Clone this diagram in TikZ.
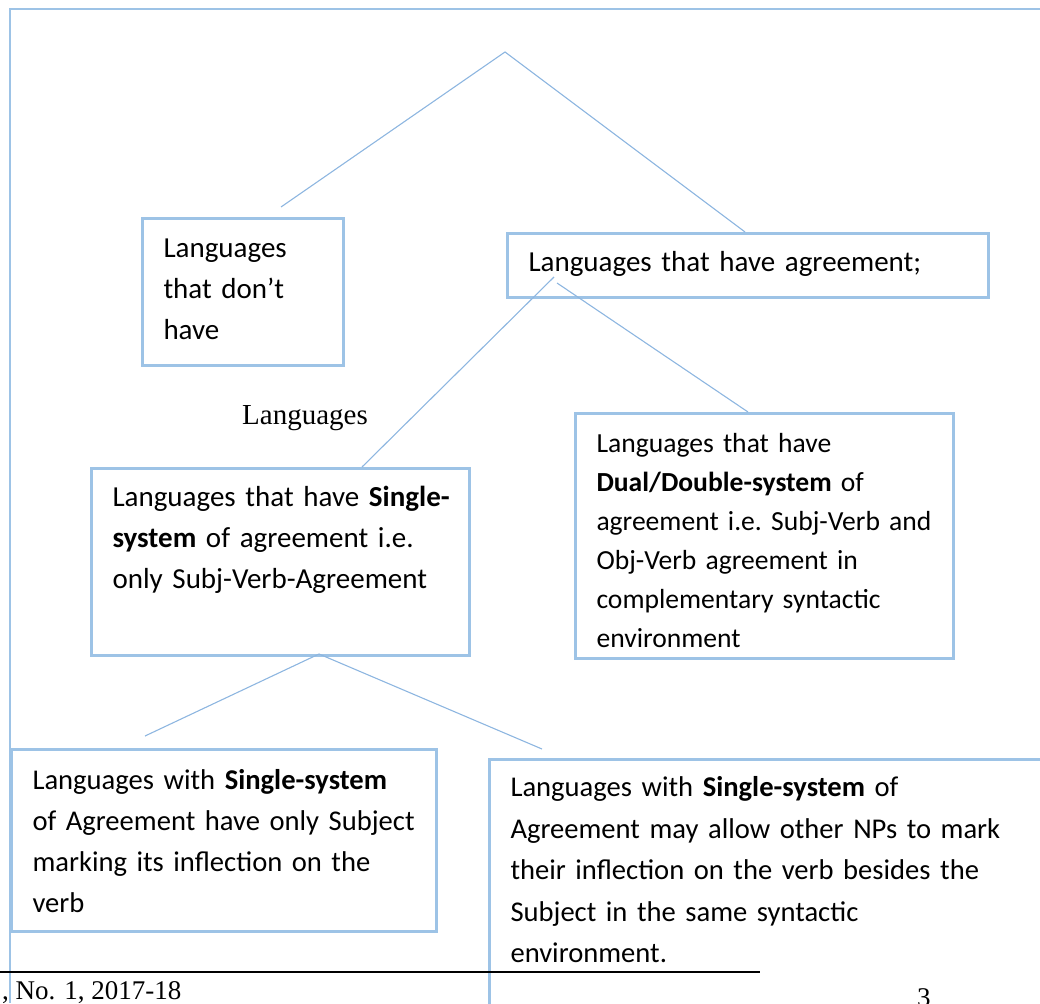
\documentclass[tikz,border=0pt]{standalone}
\usepackage{fontspec}
\setmainfont{Carlito}
\newfontfamily\timesfont{Liberation Serif}
\definecolor{boxblue}{HTML}{9DC3E6}
\definecolor{lineblue}{HTML}{8DB6E0}

\begin{document}
\begin{tikzpicture}[x=1pt, y=-1pt,
	box/.style={draw=boxblue, line width=3pt, anchor=north west, inner xsep=21pt, inner ysep=0pt, align=left,
		font=\fontsize{29}{41}\selectfont,
		execute at begin node={\frenchspacing\hyphenpenalty=10000\rightskip=0pt plus 1fil minus 40pt}},
	conn/.style={draw=lineblue, line width=1.1pt},
	serif/.style={anchor=base west, inner sep=0pt, font=\timesfont\fontsize{29}{34}\selectfont}]

	\useasboundingbox (0,0) rectangle (1040,1003);
	\clip (0,0) rectangle (1040,1003);

	\coordinate (root) at (505,52);
	\coordinate (rootL) at (281,207);
	\coordinate (rootR) at (745,232);
	\coordinate (agrL) at (554,277);
	\coordinate (agrR) at (557,283);
	\coordinate (singT) at (362,467);
	\coordinate (dualT) at (748,412);
	\coordinate (singB) at (319,654);
	\coordinate (withL) at (145,736);
	\coordinate (withR) at (542,749);

	% frame
	\draw [boxblue, line width=2pt] (1040,9) -- (10,9) -- (10,1003);

	\node [box, text width=159pt, text height=39pt, text depth=108pt] (nohave) at (141,217)
		{Languages\\that don’t\\have};
	\node [box, text width=439pt, text height=38pt, text depth=26pt] (agree) at (506,232)
		{Languages that have agreement;};
	\node [box, text width=336pt, text height=38pt, text depth=149pt] (single) at (90,467)
		{Languages that have \textbf{Single-}\\\textbf{system} of agreement i.e.\\only Subj-Verb-Agreement};
	\node [box, text width=336pt, text height=39pt, text depth=206pt, font=\fontsize{27.6}{39}\selectfont] (dual) at (574,412)
		{Languages that have\\\textbf{Dual/Double-system} of\\agreement i.e. Subj-Verb and\\Obj-Verb agreement in\\complementary syntactic\\environment};
	\node [box, text width=383pt, text height=40pt, text depth=142pt, font=\fontsize{28.6}{41}\selectfont] (subjonly) at (10,748)
		{Languages with \textbf{Single-system}\\of Agreement have only Subject\\marking its inflection on the\\verb};
	\node [box, text width=578pt, text height=37pt, text depth=300pt, font=\fontsize{28.6}{41.5}\selectfont] (othernp) at (488,758)
		{Languages with \textbf{Single-system} of\\Agreement may allow other NPs to mark\\their inflection on the verb besides the\\Subject in the same syntactic\\environment.};

	\node [serif] (lang) at (242,424) {Languages};

	\draw [conn] (rootL) -- (root) -- (rootR);
	\draw [conn] (singT) -- (agrL);
	\draw [conn] (agrR) -- (dualT);
	\draw [conn] (withL) -- (singB) -- (withR);

	% footer
	\draw [line width=2pt] (0,972) -- (760,972);
	\node [serif, font=\timesfont\fontsize{27}{32}\selectfont] (issue) at (2,999) {, No. 1, 2017-18};
	\node [serif, font=\timesfont\fontsize{27}{32}\selectfont] (page) at (917,1006) {3};

\end{tikzpicture}
\end{document}
